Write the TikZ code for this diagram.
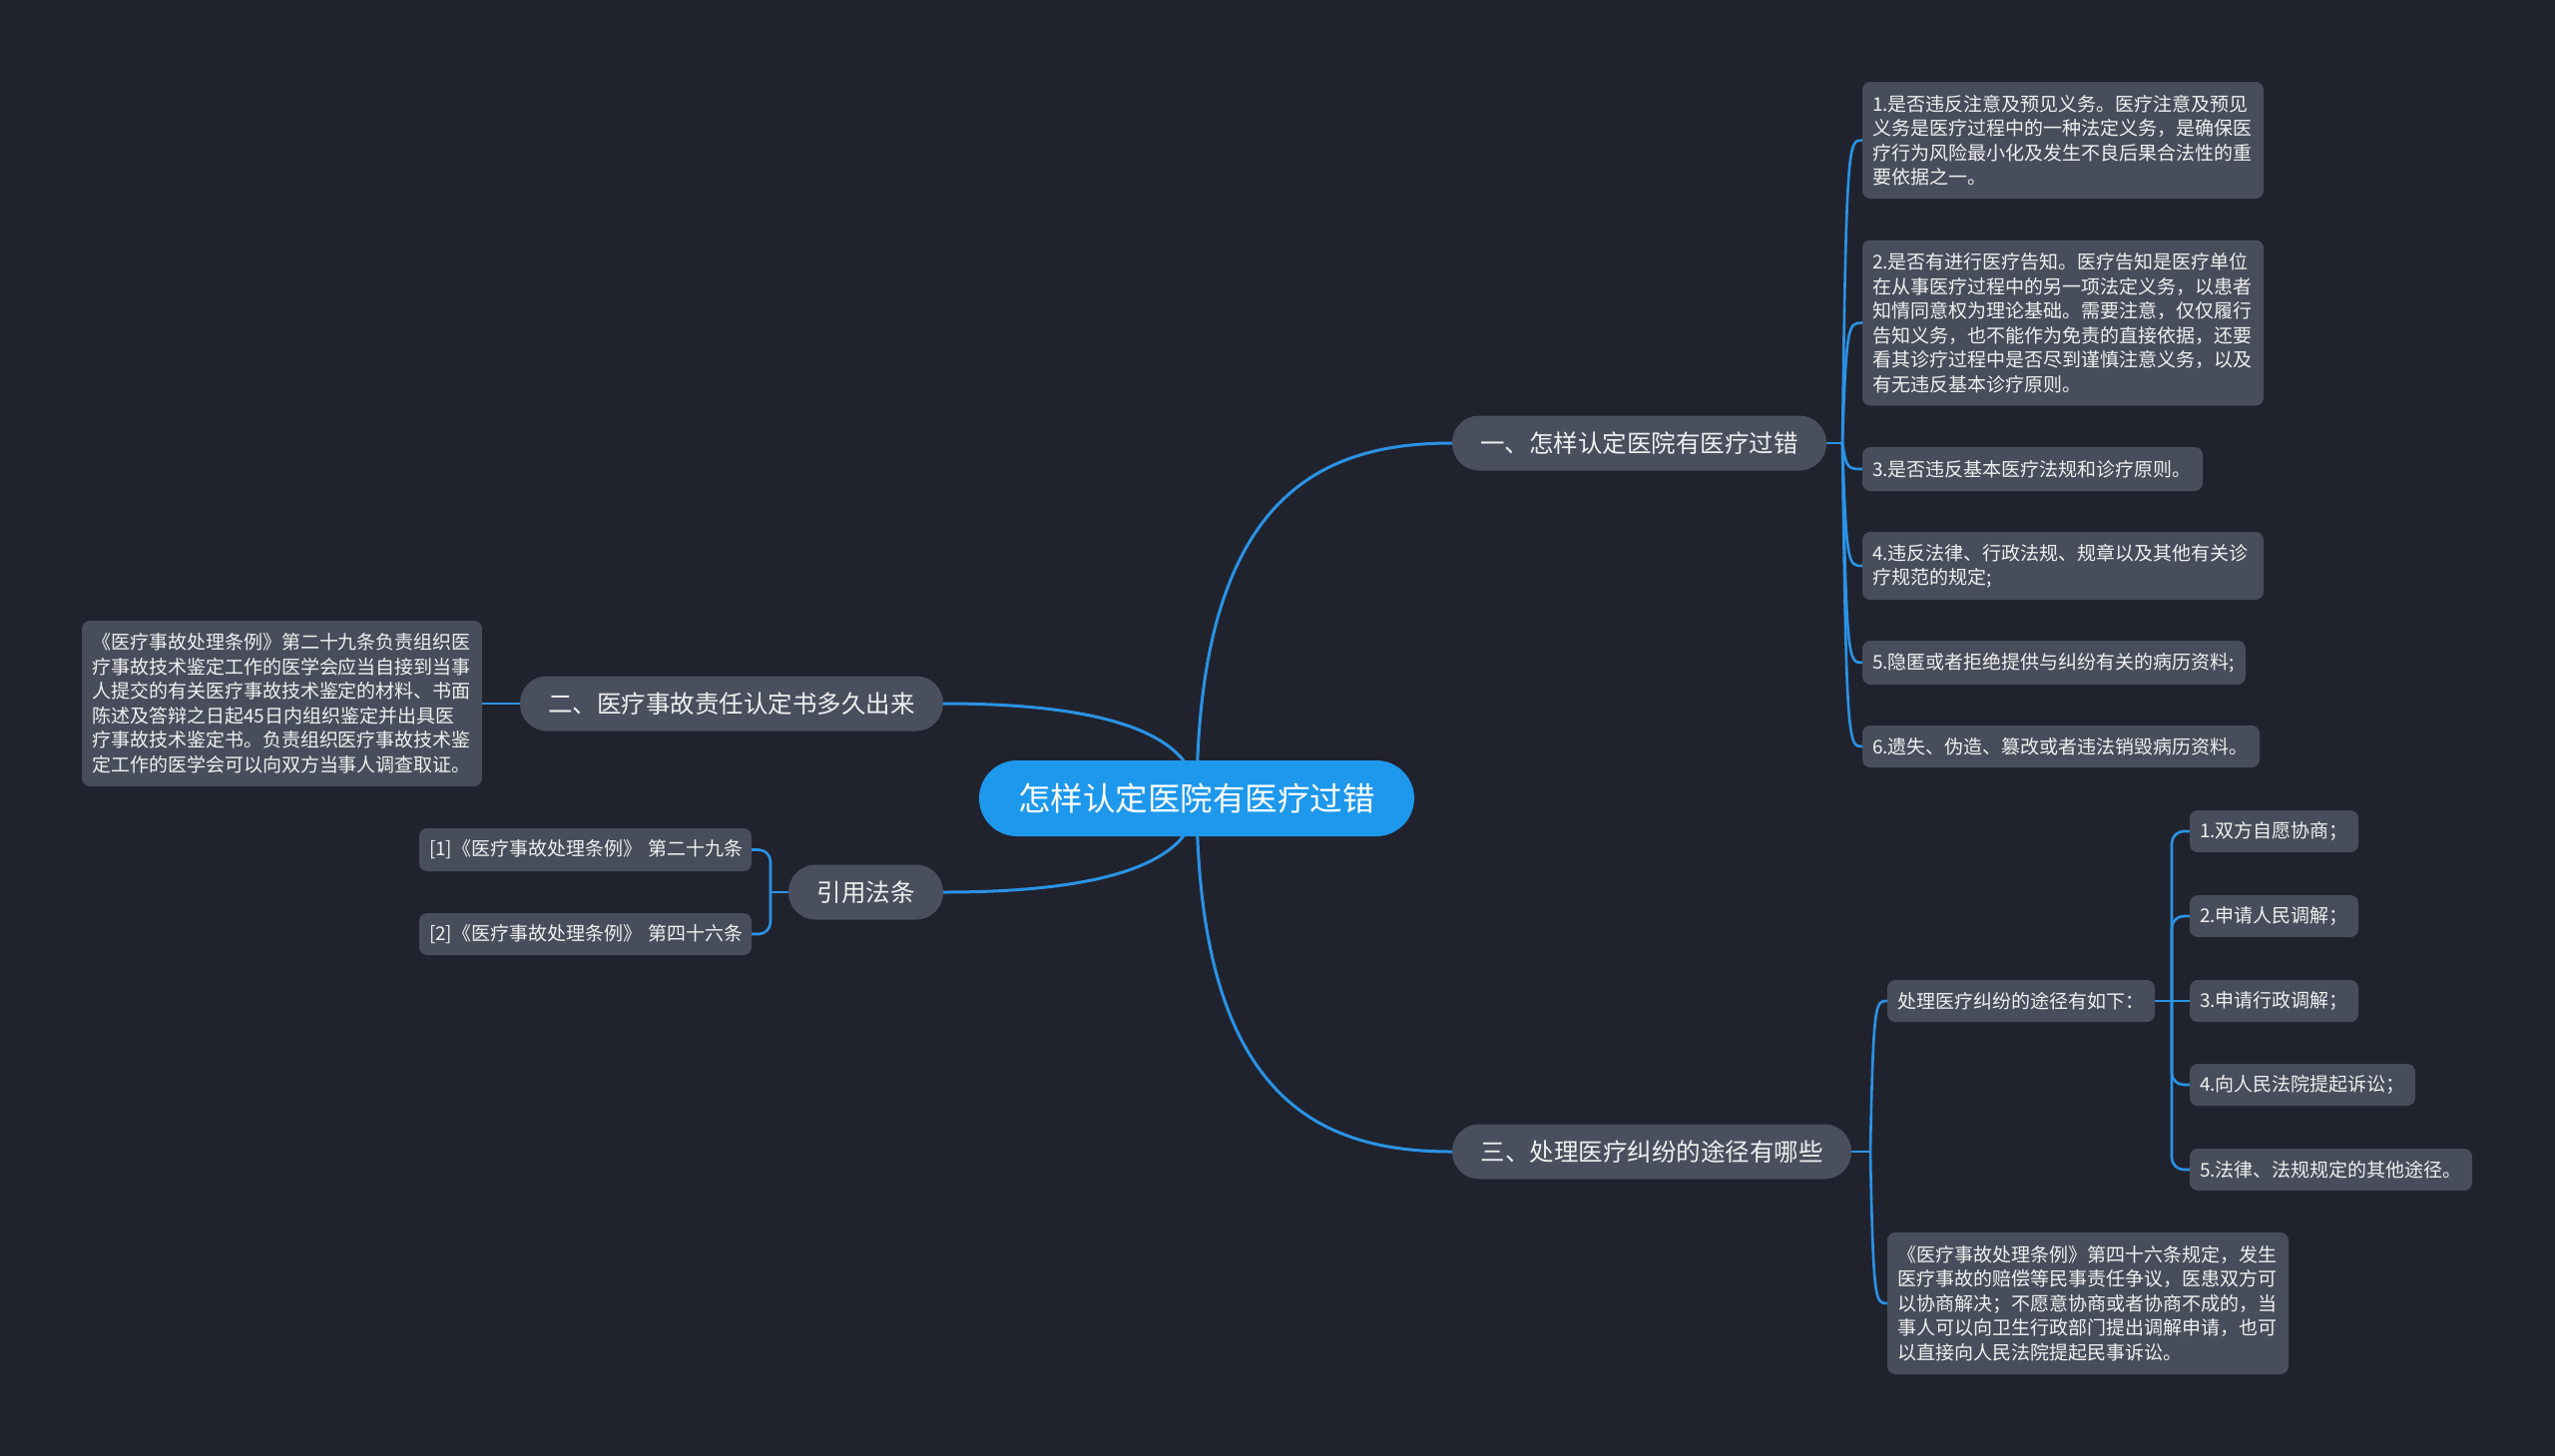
\documentclass[tikz,border=0pt]{standalone}
\usepackage{fontspec}
\setmainfont{Noto Sans CJK SC}
\usetikzlibrary{calc}
\definecolor{bgc}{HTML}{20232E}
\definecolor{rootc}{HTML}{1E98EC}
\definecolor{nodec}{HTML}{4A4F5E}
\definecolor{leafc}{HTML}{484D5B}
\definecolor{linec}{HTML}{2A93E6}
\definecolor{txtc}{HTML}{F0F0F0}
\pgfdeclarelayer{bgl}
\pgfdeclarelayer{edge}
\pgfsetlayers{bgl,edge,main}
\begin{document}
\begin{tikzpicture}[x=1pt,y=-1pt,
  rootnode/.style={fill=rootc, rounded corners=38pt, minimum width=436pt, minimum height=76pt, text=white, font=\fontsize{32.5}{36}\selectfont, inner sep=0pt},
  branch/.style={fill=nodec, rounded corners=27pt, minimum height=55pt, text=txtc, font=\fontsize{24.5}{28}\selectfont, inner sep=0pt},
  leaf/.style={fill=leafc, rounded corners=8pt, text=txtc, font=\fontsize{19}{24.5}\selectfont, align=left, inner xsep=10pt, inner ysep=0pt},
  conn/.style={draw=linec, line width=3pt},
  sconn/.style={draw=linec, line width=2.6pt, line cap=round},
]
\useasboundingbox (0,0) rectangle (2560,1459);
\begin{pgfonlayer}{bgl}
\fill[bgc] (0,0) rectangle (2560,1459);
\end{pgfonlayer}

% root and main branches
\node[rootnode] (root) at (1199,800) {怎样认定医院有医疗过错};
\node[branch, minimum width=375pt] (b1) at (1642.5,444) {一、怎样认定医院有医疗过错};
\node[branch, minimum width=424pt] (b2) at (733,705) {二、医疗事故责任认定书多久出来};
\node[branch, minimum width=155pt] (b3) at (867.5,894) {引用法条};
\node[branch, minimum width=400pt] (b4) at (1655,1154) {三、处理医疗纠纷的途径有哪些};

% leaves of branch 1
\node[leaf, text width=382pt, minimum height=117pt] (l1) at (2067,140.5) {1.是否违反注意及预见义务。医疗注意及预见\\义务是医疗过程中的一种法定义务，是确保医\\疗行为风险最小化及发生不良后果合法性的重\\要依据之一。};
\node[leaf, text width=382pt, minimum height=166pt] (l2) at (2067,323.5) {2.是否有进行医疗告知。医疗告知是医疗单位\\在从事医疗过程中的另一项法定义务，以患者\\知情同意权为理论基础。需要注意，仅仅履行\\告知义务，也不能作为免责的直接依据，还要\\看其诊疗过程中是否尽到谨慎注意义务，以及\\有无违反基本诊疗原则。};
\node[leaf, text width=321pt, minimum height=44pt] (l3) at (2036.5,470) {\mbox{3.是否违反基本医疗法规和诊疗原则。}};
\node[leaf, text width=382pt, minimum height=68pt] (l4) at (2067,567) {4.违反法律、行政法规、规章以及其他有关诊\\疗规范的规定;};
\node[leaf, text width=364pt, minimum height=44pt] (l5) at (2058,664) {\mbox{5.隐匿或者拒绝提供与纠纷有关的病历资料;}};
\node[leaf, text width=378pt, minimum height=42pt] (l6) at (2065,748) {\mbox{6.遗失、伪造、篡改或者违法销毁病历资料。}};

% leaf of branch 2
\node[leaf, text width=381pt, minimum height=166pt] (lb2) at (282.5,705) {《医疗事故处理条例》第二十九条负责组织医\\疗事故技术鉴定工作的医学会应当自接到当事\\人提交的有关医疗事故技术鉴定的材料、书面\\陈述及答辩之日起45日内组织鉴定并出具医\\疗事故技术鉴定书。负责组织医疗事故技术鉴\\定工作的医学会可以向双方当事人调查取证。};

% leaves of branch 3 (references)
\node[leaf, text width=313pt, minimum height=43pt] (r1) at (586.5,851.5) {\mbox{[1]《医疗事故处理条例》 第二十九条}};
\node[leaf, text width=313pt, minimum height=42pt] (r2) at (586.5,936) {\mbox{[2]《医疗事故处理条例》 第四十六条}};

% children of branch 4
\node[leaf, text width=248pt, minimum height=42pt] (mid) at (2025,1003) {\mbox{处理医疗纠纷的途径有如下：}};
\node[leaf, text width=149pt, minimum height=42pt] (s1) at (2278.5,833) {\mbox{1.双方自愿协商；}};
\node[leaf, text width=149pt, minimum height=42pt] (s2) at (2278.5,918) {\mbox{2.申请人民调解；}};
\node[leaf, text width=149pt, minimum height=42pt] (s3) at (2278.5,1003) {\mbox{3.申请行政调解；}};
\node[leaf, text width=206pt, minimum height=42pt] (s4) at (2307,1087) {\mbox{4.向人民法院提起诉讼；}};
\node[leaf, text width=263pt, minimum height=42pt] (s5) at (2335.5,1172) {\mbox{5.法律、法规规定的其他途径。}};
\node[leaf, text width=382pt, minimum height=142pt] (lb4) at (2092,1306) {《医疗事故处理条例》第四十六条规定，发生\\医疗事故的赔偿等民事责任争议，医患双方可\\以协商解决；不愿意协商或者协商不成的，当\\事人可以向卫生行政部门提出调解申请，也可\\以直接向人民法院提起民事诉讼。};

% junction points
\coordinate (j1) at (1846,444);
\coordinate (j3) at (772,894);
\coordinate (j4) at (1874,1154);
\coordinate (j5) at (2176,1003);

\begin{pgfonlayer}{edge}
\draw[conn] (root.center) .. controls (1200,500) and (1320,444) .. (b1.west);
\draw[conn] (root.center) .. controls (1200,1100) and (1320,1154) .. (b4.west);
\draw[conn] (root.center) .. controls (1199,740) and (1120,705) .. (b2.east);
\draw[conn] (root.center) .. controls (1199,860) and (1120,894) .. (b3.east);

\draw[sconn] (b1.east) -- (j1);
\foreach \n in {l1,l2,l3,l4,l5,l6}
  \draw[sconn] (j1) .. controls ($(j1|-\n.west)+(4,0)$) and ($(j1|-\n.west)+(6,0)$) .. (\n.west);

\draw[sconn] (b2.west) -- (lb2.east);

\draw[sconn] (b3.west) -- (j3);
\foreach \n in {r1,r2}
  \draw[sconn, rounded corners=12pt] (j3) |- (\n.east);

\draw[sconn] (b4.east) -- (j4);
\foreach \n in {mid,lb4}
  \draw[sconn] (j4) .. controls ($(j4|-\n.west)+(3,0)$) and ($(j4|-\n.west)+(5,0)$) .. (\n.west);

\draw[sconn] (mid.east) -- (s3.west);
\foreach \n in {s1,s2,s4,s5}
  \draw[sconn, rounded corners=12pt] (j5) |- (\n.west);
\end{pgfonlayer}
\end{tikzpicture}
\end{document}
